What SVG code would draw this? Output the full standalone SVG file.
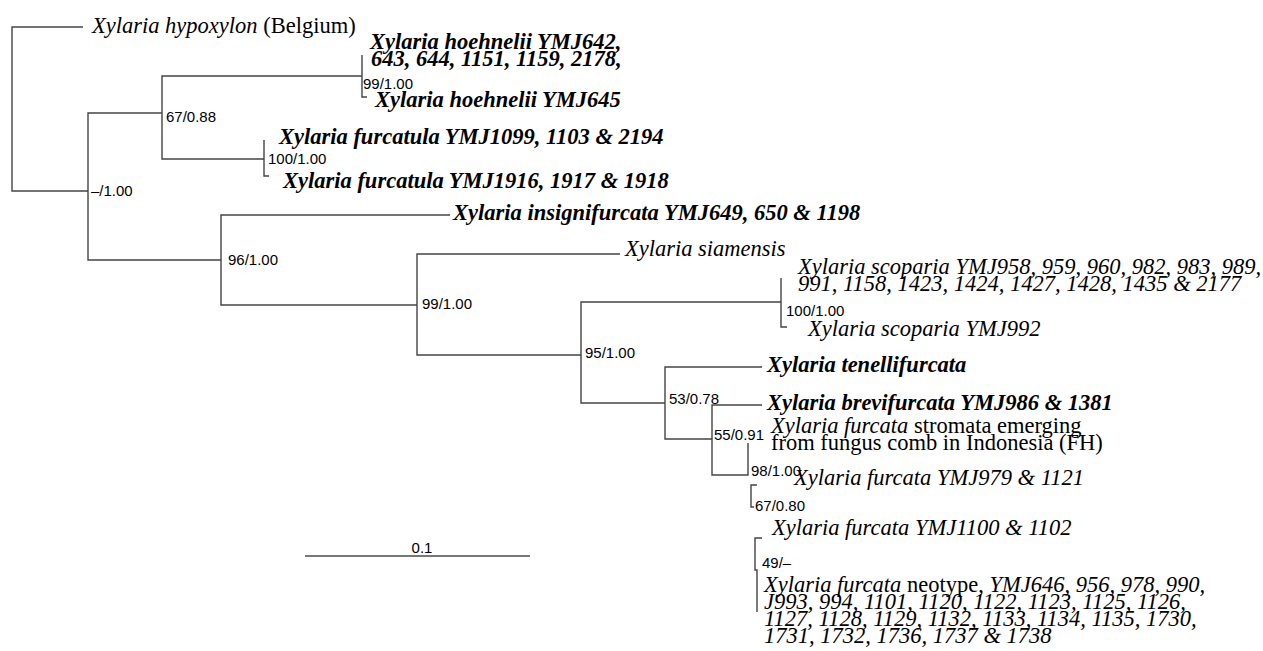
<svg xmlns="http://www.w3.org/2000/svg" width="1263" height="651" viewBox="0 0 1263 651">
<style>
.br{fill:none;stroke:#444;stroke-width:1.4}
.sc{fill:none;stroke:#777;stroke-width:2}
.t{font-family:"Liberation Serif","Times New Roman",serif;font-size:22.5px;fill:#000}
.i{font-style:italic}
.b{font-style:italic;font-weight:bold}
.r{font-style:normal;font-weight:normal}
.s{font-family:"Liberation Sans",Arial,sans-serif;font-size:15px;fill:#000}
</style>
<rect width="1263" height="651" fill="#fff"/>
<g id="connectors">
<path class="br" d="M83,27 H12 V191 H88"/>
<path class="br" d="M162,113 H88 V260 H221"/>
<path class="br" d="M362,76 H162 V159 H264"/>
<path class="br" d="M362,55 V97 H367"/>
<path class="br" d="M264,140 V176 H269"/>
<path class="br" d="M450,215 H221 V305 H417"/>
<path class="br" d="M620,254 H417 V355 H581"/>
<path class="br" d="M781,302 H581 V403 H665"/>
<path class="br" d="M781,278 V327 H787"/>
<path class="br" d="M762,367 H665 V439 H712"/>
<path class="br" d="M762,405 H712 V475 H748 V443"/>
<path class="br" d="M757,485 H751 V507 H754"/>
<path class="br" d="M762,538 H755 V570 H757 V612"/>
</g>
<g id="scale-bar">
<path class="sc" d="M305,556 H530"/>
<text class="s" x="422" y="553" text-anchor="middle">0.1</text>
</g>
<g id="tip-hypoxylon"><text class="t" x="92" y="33"><tspan class="i">Xylaria hypoxylon</tspan> (Belgium)</text></g>
<g id="tip-hoehnelii-642"><text class="t b" x="370" y="49">Xylaria hoehnelii YMJ642,</text><text class="t b" x="371" y="66">643, 644, 1151, 1159, 2178,</text></g>
<g id="tip-hoehnelii-645"><text class="t b" x="375" y="107">Xylaria hoehnelii YMJ645</text></g>
<g id="tip-furcatula-1099"><text class="t b" x="279" y="144">Xylaria furcatula YMJ1099, 1103 &amp; 2194</text></g>
<g id="tip-furcatula-1916"><text class="t b" x="283" y="188">Xylaria furcatula YMJ1916, 1917 &amp; 1918</text></g>
<g id="tip-insignifurcata"><text class="t b" x="453" y="220">Xylaria insignifurcata YMJ649, 650 &amp; 1198</text></g>
<g id="tip-siamensis"><text class="t i" x="625" y="256">Xylaria siamensis</text></g>
<g id="tip-scoparia-958"><text class="t i" x="798" y="274">Xylaria scoparia YMJ958, 959, 960, 982, 983, 989,</text><text class="t i" x="798" y="291">991, 1158, 1423, 1424, 1427, 1428, 1435 &amp; 2177</text></g>
<g id="tip-scoparia-992"><text class="t i" x="808" y="336">Xylaria scoparia YMJ992</text></g>
<g id="tip-tenellifurcata"><text class="t b" x="767" y="372">Xylaria tenellifurcata</text></g>
<g id="tip-brevifurcata"><text class="t b" x="767" y="410">Xylaria brevifurcata YMJ986 &amp; 1381</text></g>
<g id="tip-furcata-FH"><text class="t" x="771" y="433"><tspan class="i">Xylaria furcata</tspan> stromata emerging</text><text class="t" x="771" y="450">from fungus comb in Indonesia (FH)</text></g>
<g id="tip-furcata-979"><text class="t i" x="794" y="485">Xylaria furcata YMJ979 &amp; 1121</text></g>
<g id="tip-furcata-1100"><text class="t i" x="772" y="535">Xylaria furcata YMJ1100 &amp; 1102</text></g>
<g id="tip-furcata-neotype">
<text class="t" x="764" y="592"><tspan class="i">Xylaria furcata</tspan> neotype, <tspan class="i">YMJ646, 956, 978, 990,</tspan></text>
<text class="t i" x="764" y="609">J993, 994, 1101, 1120, 1122, 1123, 1125, 1126,</text>
<text class="t i" x="764" y="626">1127, 1128, 1129, 1132, 1133, 1134, 1135, 1730,</text>
<text class="t i" x="764" y="643">1731, 1732, 1736, 1737 &amp; 1738</text>
</g>
<g id="node-hoehnelii"><text class="s" x="363" y="89">99/1.00</text></g>
<g id="node-67-088"><text class="s" x="166" y="122">67/0.88</text></g>
<g id="node-furcatula"><text class="s" x="268" y="164">100/1.00</text></g>
<g id="node-root-inner"><text class="s" x="91" y="196">–/1.00</text></g>
<g id="node-96"><text class="s" x="228" y="265">96/1.00</text></g>
<g id="node-99"><text class="s" x="422" y="309">99/1.00</text></g>
<g id="node-scoparia"><text class="s" x="786" y="316">100/1.00</text></g>
<g id="node-95"><text class="s" x="585" y="358">95/1.00</text></g>
<g id="node-53"><text class="s" x="669" y="404">53/0.78</text></g>
<g id="node-55"><text class="s" x="714" y="440">55/0.91</text></g>
<g id="node-98"><text class="s" x="751" y="476">98/1.00</text></g>
<g id="node-67-080"><text class="s" x="755" y="511">67/0.80</text></g>
<g id="node-49"><text class="s" x="762" y="568">49/–</text></g>
</svg>
